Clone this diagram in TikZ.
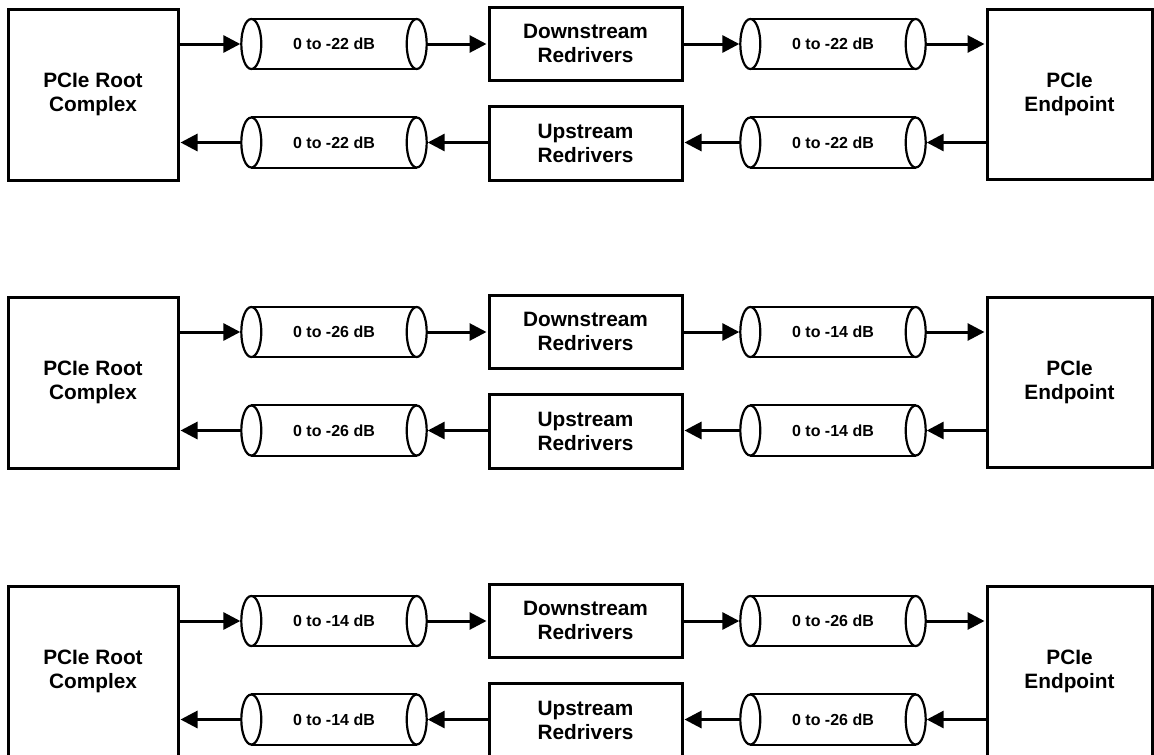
\documentclass[tikz,border=0pt]{standalone}
\usepackage{fontspec}
\setmainfont{Liberation Sans}
\usetikzlibrary{arrows.meta}
\newcommand\pcierow[4]{%
  \begin{scope}[yshift=-#2pt]
    \node[box,minimum width=170pt,minimum height=171pt] (root#1) at (93,94.5) {PCIe Root\\Complex};
    \node[box,minimum width=193pt,minimum height=73pt] (down#1) at (585.5,43.5) {Downstream\\Redrivers};
    \node[box,minimum width=193pt,minimum height=74pt] (up#1) at (585.5,143) {Upstream\\Redrivers};
    \node[box,minimum width=165pt,minimum height=170pt] (ep#1) at (1069.5,94) {PCIe\\Endpoint};
    \node[cable] (ctl#1) at (334,44) {0 to #3 dB};
    \node[cable] (cbl#1) at (334,142.5) {0 to #3 dB};
    \node[cable] (ctr#1) at (833,44) {0 to #4 dB};
    \node[cable] (cbr#1) at (833,142.5) {0 to #4 dB};
    \foreach \c in {ctl#1,cbl#1,ctr#1,cbr#1}{
      \draw[cabline] (\c.north west) -- (\c.north east) (\c.south west) -- (\c.south east);
      \draw[cabline] (\c.west) ellipse [x radius=10pt, y radius=25pt];
      \draw[cabline] (\c.east) ellipse [x radius=10pt, y radius=25pt];
    }
    \draw[arr] (root#1.east |- ctl#1) -- ([xshift=-10pt]ctl#1.west);
    \draw[arr] ([xshift=10pt]ctl#1.east) -- (down#1.west |- ctl#1);
    \draw[arr] (down#1.east |- ctr#1) -- ([xshift=-10pt]ctr#1.west);
    \draw[arr] ([xshift=10pt]ctr#1.east) -- (ep#1.west |- ctr#1);
    \draw[arr] (ep#1.west |- cbr#1) -- ([xshift=10pt]cbr#1.east);
    \draw[arr] ([xshift=-10pt]cbr#1.west) -- (up#1.east |- cbr#1);
    \draw[arr] (up#1.west |- cbl#1) -- ([xshift=10pt]cbl#1.east);
    \draw[arr] ([xshift=-10pt]cbl#1.west) -- (root#1.east |- cbl#1);
  \end{scope}}
\begin{document}
\begin{tikzpicture}[x=1pt,y=-1pt,
  box/.style={draw,line width=3pt,font=\bfseries\fontsize{20.8}{24}\selectfont,align=center,inner sep=0pt},
  cable/.style={inner sep=0pt,minimum width=165pt,minimum height=50pt,font=\bfseries\fontsize{16}{19}\selectfont},
  cabline/.style={line width=2.2pt,fill=white},
  arr/.style={line width=3pt,-{Triangle[length=17pt,width=17pt]},shorten >=1pt}]
  \fill[white] (0,0) rectangle (1154,755);
  \useasboundingbox (0,0) rectangle (1154,755);
  \begin{scope}
    \clip (0,0) rectangle (1154,755);
    \pcierow{1}{0}{-22}{-22}
    \pcierow{2}{288}{-26}{-14}
    \pcierow{3}{577}{-14}{-26}
  \end{scope}
\end{tikzpicture}
\end{document}
